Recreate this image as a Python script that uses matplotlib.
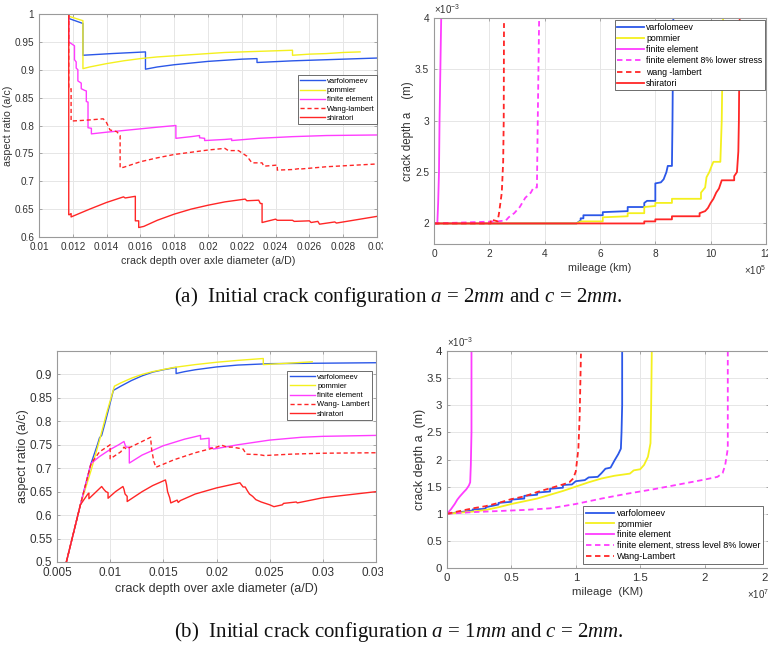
import numpy as np
import matplotlib
matplotlib.use("Agg")
import matplotlib.pyplot as plt
from matplotlib import ticker
from matplotlib.transforms import Bbox, TransformedBbox

plt.rcParams['font.family'] = ['Liberation Sans', 'DejaVu Sans']
plt.rcParams['mathtext.fontset'] = 'custom'
plt.rcParams['mathtext.it'] = 'Liberation Serif:italic'
plt.rcParams['mathtext.rm'] = 'Liberation Sans'
plt.rcParams['mathtext.sf'] = 'Liberation Sans'

# ---------------- data: panel (a) left, aspect ratio vs a/D ----------------
a_var_x = [0.01176, 0.01176, 0.0126, 0.0126, 0.0143, 0.0163, 0.0163, 0.017, 0.018, 0.019, 0.020, 0.021, 0.022, 0.0229, 0.0229, 0.025, 0.027, 0.030]
a_var_y = [1.0, 0.992, 0.983, 0.926, 0.929, 0.932, 0.901, 0.905, 0.909, 0.912, 0.915, 0.917, 0.919, 0.920, 0.913, 0.916, 0.918, 0.921]

a_pom_x = [0.01176, 0.01176, 0.0126, 0.0126, 0.013, 0.014, 0.015, 0.016, 0.017, 0.018, 0.019, 0.020, 0.021, 0.022, 0.023, 0.024, 0.0250, 0.0250, 0.026, 0.027, 0.028, 0.029]
a_pom_y = [1.0, 0.996, 0.988, 0.902, 0.905, 0.911, 0.916, 0.920, 0.923, 0.925, 0.927, 0.929, 0.931, 0.932, 0.933, 0.934, 0.935, 0.926, 0.928, 0.929, 0.931, 0.932]

a_fe_x = [0.01176, 0.01176, 0.0120, 0.0121, 0.0121, 0.0122, 0.0122, 0.0123, 0.0123, 0.0124, 0.0125, 0.0125, 0.0127, 0.0128, 0.0128, 0.0129, 0.0129, 0.0131, 0.0131, 0.014, 0.015, 0.016, 0.017, 0.0181, 0.0181, 0.019, 0.0195, 0.0195, 0.0198, 0.0198, 0.021, 0.0214, 0.0214, 0.023, 0.025, 0.027, 0.030]
a_fe_y = [1.0, 0.950, 0.945, 0.943, 0.918, 0.914, 0.903, 0.900, 0.880, 0.878, 0.876, 0.866, 0.863, 0.862, 0.843, 0.842, 0.796, 0.795, 0.785, 0.788, 0.791, 0.794, 0.797, 0.800, 0.777, 0.780, 0.782, 0.778, 0.777, 0.773, 0.775, 0.776, 0.773, 0.777, 0.780, 0.782, 0.783]

a_wl_x = [0.01176, 0.01176, 0.0119, 0.0119, 0.0125, 0.013, 0.0138, 0.014, 0.0142, 0.0146, 0.0148, 0.0148, 0.015, 0.016, 0.017, 0.018, 0.019, 0.020, 0.021, 0.0212, 0.0218, 0.0223, 0.0226, 0.0232, 0.0233, 0.0241, 0.0241, 0.025, 0.0255, 0.0255, 0.027, 0.030]
a_wl_y = [1.0, 0.866, 0.866, 0.808, 0.809, 0.810, 0.812, 0.805, 0.792, 0.789, 0.782, 0.724, 0.725, 0.735, 0.742, 0.748, 0.752, 0.756, 0.759, 0.755, 0.755, 0.745, 0.733, 0.733, 0.727, 0.729, 0.720, 0.721, 0.723, 0.722, 0.726, 0.731]

a_shi_x = [0.01176, 0.01176, 0.0118, 0.0119, 0.0119, 0.013, 0.014, 0.0150, 0.0151, 0.0157, 0.0157, 0.0159, 0.0159, 0.0162, 0.017, 0.018, 0.019, 0.020, 0.021, 0.0222, 0.0223, 0.0230, 0.0231, 0.0232, 0.0232, 0.024, 0.0241, 0.025, 0.0251, 0.026, 0.0261, 0.0265, 0.0266, 0.0275, 0.0276, 0.030]
a_shi_y = [1.0, 0.640, 0.640, 0.642, 0.636, 0.650, 0.662, 0.672, 0.670, 0.673, 0.629, 0.629, 0.617, 0.619, 0.630, 0.641, 0.650, 0.657, 0.663, 0.668, 0.665, 0.666, 0.660, 0.660, 0.626, 0.632, 0.630, 0.630, 0.628, 0.629, 0.626, 0.628, 0.623, 0.627, 0.625, 0.637]

# ---------------- data: panel (a) right, crack depth vs mileage ----------------
# mileage in units of 1e5 km, depth in units of 1e-3 m
ar_var_x = [0, 5.15, 5.3, 5.3, 5.4, 5.4, 6.1, 6.1, 7.0, 7.0, 7.6, 7.6, 7.7, 8.0, 8.0, 8.2, 8.3, 8.4, 8.45, 8.6, 8.62, 8.65]
ar_var_y = [2.0, 2.0, 2.03, 2.05, 2.05, 2.08, 2.08, 2.11, 2.12, 2.16, 2.16, 2.2, 2.22, 2.22, 2.39, 2.40, 2.43, 2.5, 2.56, 2.56, 3.0, 4.0]

ar_pom_x = [0, 5.15, 5.3, 6.1, 6.1, 7.0, 7.0, 7.6, 7.6, 8.0, 8.0, 8.6, 8.6, 9.65, 9.65, 9.8, 9.85, 9.95, 10.05, 10.1, 10.35, 10.4, 10.45]
ar_pom_y = [2.0, 2.0, 2.02, 2.02, 2.06, 2.07, 2.1, 2.1, 2.16, 2.17, 2.2, 2.2, 2.24, 2.24, 2.3, 2.35, 2.45, 2.5, 2.57, 2.6, 2.6, 3.0, 4.0]

ar_fe_x = [0, 0.12, 0.15, 0.18, 0.20, 0.23, 0.26]
ar_fe_y = [2.0, 2.0, 2.2, 2.5, 3.0, 3.5, 4.0]

ar_fe8_x = [0, 2.3, 2.6, 2.7, 2.9, 3.1, 3.3, 3.5, 3.6, 3.72, 3.75, 3.8]
ar_fe8_y = [2.0, 2.02, 2.03, 2.06, 2.1, 2.16, 2.25, 2.3, 2.35, 2.35, 3.0, 4.0]

ar_wl_x = [0, 2.05, 2.05, 2.3, 2.35, 2.45, 2.5, 2.52, 2.53]
ar_wl_y = [2.0, 2.0, 2.04, 2.02, 2.1, 2.3, 2.6, 3.0, 3.95]

ar_shi_x = [0, 7.6, 7.6, 8.0, 8.0, 8.6, 8.6, 9.6, 9.6, 9.8, 9.9, 10.0, 10.1, 10.2, 10.3, 10.4, 10.85, 10.85, 10.95, 11.0, 11.02, 11.05]
ar_shi_y = [2.0, 2.0, 2.02, 2.02, 2.04, 2.04, 2.07, 2.07, 2.1, 2.12, 2.15, 2.2, 2.24, 2.3, 2.34, 2.42, 2.42, 2.46, 2.5, 2.7, 3.0, 4.0]

# ---------------- data: panel (b) left ----------------
b_var_x = [0.00588, 0.0072, 0.0082, 0.0088, 0.0090, 0.0092, 0.0095, 0.0099, 0.0103, 0.011, 0.012, 0.013, 0.014, 0.015, 0.0162, 0.0162, 0.017, 0.018, 0.020, 0.022, 0.025, 0.030, 0.035]
b_var_y = [0.5, 0.622, 0.71, 0.75, 0.765, 0.77, 0.795, 0.83, 0.866, 0.875, 0.887, 0.897, 0.905, 0.910, 0.915, 0.902, 0.906, 0.910, 0.916, 0.920, 0.923, 0.924, 0.925]

b_pom_x = [0.00588, 0.0072, 0.0082, 0.0090, 0.0097, 0.0104, 0.011, 0.012, 0.013, 0.014, 0.016, 0.018, 0.020, 0.022, 0.0244, 0.0244, 0.026, 0.029]
b_pom_y = [0.5, 0.622, 0.695, 0.76, 0.82, 0.875, 0.882, 0.892, 0.900, 0.906, 0.915, 0.921, 0.926, 0.930, 0.934, 0.921, 0.923, 0.927]

b_fe_x = [0.00588, 0.0072, 0.0082, 0.009, 0.010, 0.0108, 0.0113, 0.0114, 0.0115, 0.0118, 0.0118, 0.013, 0.015, 0.017, 0.0185, 0.0185, 0.0193, 0.0193, 0.0196, 0.0197, 0.020, 0.022, 0.025, 0.028, 0.030, 0.035]
b_fe_y = [0.5, 0.622, 0.71, 0.725, 0.740, 0.750, 0.757, 0.750, 0.745, 0.745, 0.711, 0.728, 0.748, 0.762, 0.770, 0.762, 0.764, 0.744, 0.744, 0.741, 0.742, 0.750, 0.760, 0.766, 0.768, 0.770]

b_wl_x = [0.00588, 0.0072, 0.0082, 0.009, 0.0100, 0.0100, 0.011, 0.0113, 0.0115, 0.012, 0.013, 0.0138, 0.0139, 0.0141, 0.0143, 0.016, 0.018, 0.020, 0.0205, 0.021, 0.0215, 0.022, 0.0225, 0.0228, 0.024, 0.0245, 0.027, 0.030, 0.035]
b_wl_y = [0.5, 0.622, 0.71, 0.735, 0.750, 0.720, 0.735, 0.745, 0.741, 0.746, 0.757, 0.766, 0.740, 0.715, 0.702, 0.718, 0.733, 0.745, 0.749, 0.745, 0.745, 0.743, 0.741, 0.730, 0.729, 0.727, 0.730, 0.732, 0.733]

b_shi_x = [0.00588, 0.0072, 0.0079, 0.0080, 0.0080, 0.0086, 0.0092, 0.0094, 0.0096, 0.0098, 0.0098, 0.0105, 0.0112, 0.0113, 0.0114, 0.0116, 0.0116, 0.013, 0.014, 0.0152, 0.0153, 0.0154, 0.0156, 0.0157, 0.0163, 0.0164, 0.0166, 0.018, 0.020, 0.0222, 0.0225, 0.0227, 0.0229, 0.0231, 0.0234, 0.0237, 0.0242, 0.0246, 0.0250, 0.0254, 0.0262, 0.0263, 0.0275, 0.0276, 0.030, 0.035]
b_shi_y = [0.5, 0.622, 0.645, 0.647, 0.635, 0.648, 0.661, 0.655, 0.650, 0.648, 0.636, 0.650, 0.661, 0.655, 0.645, 0.640, 0.629, 0.650, 0.663, 0.675, 0.665, 0.650, 0.637, 0.626, 0.632, 0.627, 0.631, 0.645, 0.658, 0.669, 0.660, 0.660, 0.652, 0.645, 0.640, 0.633, 0.628, 0.625, 0.622, 0.618, 0.622, 0.625, 0.628, 0.626, 0.637, 0.650]

# ---------------- data: panel (b) right ----------------
# mileage in units of 1e7 km, depth in units of 1e-3 m
br_var_x = [0, 0.1, 0.2, 0.2, 0.3, 0.3, 0.4, 0.4, 0.5, 0.5, 0.6, 0.6, 0.7, 0.7, 0.8, 0.8, 0.9, 0.9, 0.97, 1.0, 1.07, 1.1, 1.17, 1.2, 1.23, 1.27, 1.3, 1.33, 1.35, 1.355, 1.36, 1.36]
br_var_y = [1.0, 1.03, 1.06, 1.08, 1.09, 1.12, 1.17, 1.2, 1.22, 1.26, 1.28, 1.33, 1.35, 1.39, 1.41, 1.46, 1.48, 1.53, 1.54, 1.6, 1.62, 1.67, 1.68, 1.75, 1.83, 1.85, 1.98, 2.1, 2.2, 2.5, 3.0, 4.0]

br_pom_x = [0, 0.2, 0.3, 0.4, 0.5, 0.6, 0.7, 0.8, 0.9, 1.0, 1.1, 1.2, 1.3, 1.42, 1.45, 1.5, 1.53, 1.56, 1.58, 1.585, 1.59]
br_pom_y = [1.0, 1.04, 1.07, 1.12, 1.18, 1.23, 1.28, 1.35, 1.42, 1.5, 1.58, 1.65, 1.7, 1.74, 1.8, 1.82, 1.9, 2.05, 2.3, 3.0, 4.0]

br_fe_x = [0, 0.03, 0.06, 0.08, 0.10, 0.13, 0.15, 0.17, 0.18, 0.185, 0.19, 0.19]
br_fe_y = [1.0, 1.08, 1.18, 1.26, 1.32, 1.40, 1.45, 1.52, 1.58, 1.9, 2.5, 4.0]

br_fe8_x = [0, 0.2, 0.4, 0.6, 0.8, 1.0, 1.2, 1.4, 1.6, 1.8, 2.0, 2.1, 2.14, 2.16, 2.18, 2.18]
br_fe8_y = [1.0, 1.03, 1.05, 1.07, 1.1, 1.18, 1.28, 1.37, 1.45, 1.54, 1.63, 1.68, 1.75, 1.9, 2.2, 4.0]

br_wl_x = [0, 0.1, 0.2, 0.3, 0.4, 0.5, 0.6, 0.7, 0.8, 0.9, 0.95, 0.98, 1.0, 1.02, 1.03, 1.04]
br_wl_y = [1.0, 1.05, 1.1, 1.14, 1.2, 1.27, 1.32, 1.4, 1.47, 1.54, 1.58, 1.65, 1.78, 2.2, 2.8, 3.95]

labels_a_left = ['varfolomeev', 'pommier', 'finite element', 'Wang-lambert', 'shiratori']
labels_a_right = ['varfolomeev', 'pommier', 'finite element', 'finite element 8% lower stress', 'wang -lambert', 'shiratori']
labels_b_left = ['varfolomeev', 'pommier', 'finite element', 'Wang- Lambert', 'shiratori']
labels_b_right = ['varfolomeev', 'pommier', 'finite element', 'finite element, stress level 8% lower', 'Wang-Lambert']

caption_a = r"(a)  Initial crack configuration $a$ = 2$mm$ and $c$ = 2$mm$."
caption_b = r"(b)  Initial crack configuration $a$ = 1$mm$ and $c$ = 2$mm$."

BLUE = '#2B57E8'
YEL = '#F4F01E'
MAG = '#FF3CFF'
RED = '#FF2626'
SPINE = '#9a9a9a'
TXT = '#333333'


class GFormatter(ticker.ScalarFormatter):
    def _set_format(self):
        self.format = '%g'


W, H = 768, 647
fig = plt.figure(figsize=(W / 100, H / 100), dpi=100)


def add_axes(l, r, t, b):
    return fig.add_axes([l / W, (H - b) / H, (r - l) / W, (b - t) / H])


def style(ax, fs, pad):
    ax.grid(True, color='#e6e6e6', linewidth=0.7)
    ax.set_axisbelow(True)
    for s in ax.spines.values():
        s.set_color(SPINE)
        s.set_linewidth(0.8)
    ax.tick_params(direction='in', length=2.5, width=0.6, colors=SPINE,
                   labelcolor=TXT, labelsize=fs, top=True, right=True, pad=pad)


ax1 = add_axes(39, 377, 14, 237)
ax2 = add_axes(434, 766, 18, 244)
ax3 = add_axes(57, 376, 351, 562)
ax4 = add_axes(447, 769, 351, 568)

# panel a left
lw = 1.0
ax1.plot(a_var_x, a_var_y, color=BLUE, lw=lw, label=labels_a_left[0])
ax1.plot(a_pom_x, a_pom_y, color=YEL, lw=lw, label=labels_a_left[1])
ax1.plot(a_fe_x, a_fe_y, color=MAG, lw=lw, label=labels_a_left[2])
ax1.plot(a_wl_x, a_wl_y, color=RED, lw=lw, ls=(0, (3, 2)), label=labels_a_left[3])
ax1.plot(a_shi_x, a_shi_y, color=RED, lw=lw, label=labels_a_left[4])
ax1.set_xlim(0.01, 0.03)
ax1.set_ylim(0.6, 1.0)
ax1.set_xticks(np.linspace(0.01, 0.03, 11))
ax1.set_yticks(np.linspace(0.6, 1.0, 9))
ax1.xaxis.set_major_formatter(ticker.FormatStrFormatter('%g'))
ax1.yaxis.set_major_formatter(ticker.FormatStrFormatter('%g'))
style(ax1, 7.2, 3.5)
ax1.set_xlabel('crack depth over axle diameter (a/D)', fontsize=7.7, color=TXT, labelpad=3)
ax1.set_ylabel('aspect ratio (a/c)', fontsize=7.7, color=TXT, labelpad=1)
leg = ax1.legend(loc='upper right', bbox_to_anchor=(1.0, 0.725), borderaxespad=0,
                 fontsize=5.5, fancybox=False, edgecolor='#555555', framealpha=1,
                 handlelength=3.2, handletextpad=0.3, labelspacing=0.25, borderpad=0.3)
leg.get_frame().set_linewidth(0.6)

# panel a right
lw2 = 1.3
ax2.plot(np.array(ar_var_x) * 1e5, np.array(ar_var_y) * 1e-3, color=BLUE, lw=lw2, label=labels_a_right[0])
ax2.plot(np.array(ar_pom_x) * 1e5, np.array(ar_pom_y) * 1e-3, color=YEL, lw=lw2, label=labels_a_right[1])
ax2.plot(np.array(ar_fe_x) * 1e5, np.array(ar_fe_y) * 1e-3, color=MAG, lw=lw2, label=labels_a_right[2])
ax2.plot(np.array(ar_fe8_x) * 1e5, np.array(ar_fe8_y) * 1e-3, color=MAG, lw=lw2, ls=(0, (3, 2)), label=labels_a_right[3])
ax2.plot(np.array(ar_wl_x) * 1e5, np.array(ar_wl_y) * 1e-3, color=RED, lw=lw2, ls=(0, (3, 2)), label=labels_a_right[4])
ax2.plot(np.array(ar_shi_x) * 1e5, np.array(ar_shi_y) * 1e-3, color=RED, lw=lw2, label=labels_a_right[5])
ax2.set_xlim(0, 12e5)
ax2.set_ylim(1.8e-3, 4e-3)
ax2.set_xticks(np.arange(0, 13, 2) * 1e5)
ax2.set_yticks(np.arange(2, 4.01, 0.5) * 1e-3)
fx = GFormatter(useMathText=True); fx.set_powerlimits((5, 5))
fy = GFormatter(useMathText=True); fy.set_powerlimits((-3, -3))
ax2.xaxis.set_major_formatter(fx)
ax2.yaxis.set_major_formatter(fy)
style(ax2, 7.3, 3.5)
ax2.set_xlabel('mileage (km)', fontsize=7.8, color=TXT, labelpad=3)
ax2.set_ylabel('crack depth a    (m)', fontsize=8.3, color=TXT, labelpad=1)
leg = ax2.legend(loc='upper right', bbox_to_anchor=(0.997, 0.99), borderaxespad=0,
                 fontsize=6.3, fancybox=False, edgecolor='#555555', framealpha=1,
                 handlelength=3.0, handletextpad=0.3, labelspacing=0.25, borderpad=0.3)
leg.get_frame().set_linewidth(0.6)

# panel b left
ax3.plot(b_var_x, b_var_y, color=BLUE, lw=lw, label=labels_b_left[0])
ax3.plot(b_pom_x, b_pom_y, color=YEL, lw=lw, label=labels_b_left[1])
ax3.plot(b_fe_x, b_fe_y, color=MAG, lw=lw, label=labels_b_left[2])
ax3.plot(b_wl_x, b_wl_y, color=RED, lw=lw, ls=(0, (3, 2)), label=labels_b_left[3])
ax3.plot(b_shi_x, b_shi_y, color=RED, lw=lw, label=labels_b_left[4])
ax3.set_xlim(0.005, 0.035)
ax3.set_ylim(0.5, 0.95)
ax3.set_xticks(np.linspace(0.005, 0.035, 7))
ax3.set_yticks(np.linspace(0.5, 0.9, 9))
ax3.xaxis.set_major_formatter(ticker.FormatStrFormatter('%g'))
ax3.yaxis.set_major_formatter(ticker.FormatStrFormatter('%g'))
style(ax3, 8.5, 3.5)
ax3.set_xlabel('crack depth over axle diameter (a/D)', fontsize=9, color=TXT, labelpad=3)
ax3.set_ylabel('aspect ratio (a/c)', fontsize=9, color=TXT, labelpad=0)
leg = ax3.legend(loc='upper right', bbox_to_anchor=(0.987, 0.905), borderaxespad=0,
                 fontsize=5.5, fancybox=False, edgecolor='#555555', framealpha=1,
                 handlelength=3.3, handletextpad=0.3, labelspacing=0.25, borderpad=0.3)
leg.get_frame().set_linewidth(0.6)

# panel b right
ax4.plot(np.array(br_var_x) * 1e7, np.array(br_var_y) * 1e-3, color=BLUE, lw=lw2, label=labels_b_right[0])
ax4.plot(np.array(br_pom_x) * 1e7, np.array(br_pom_y) * 1e-3, color=YEL, lw=lw2, label=labels_b_right[1])
ax4.plot(np.array(br_fe_x) * 1e7, np.array(br_fe_y) * 1e-3, color=MAG, lw=lw2, label=labels_b_right[2])
ax4.plot(np.array(br_fe8_x) * 1e7, np.array(br_fe8_y) * 1e-3, color=MAG, lw=lw2, ls=(0, (3, 2)), label=labels_b_right[3])
ax4.plot(np.array(br_wl_x) * 1e7, np.array(br_wl_y) * 1e-3, color=RED, lw=lw2, ls=(0, (3, 2)), label=labels_b_right[4])
ax4.set_xlim(0, 2.5e7)
ax4.set_ylim(0, 4e-3)
ax4.set_xticks(np.arange(0, 2.51, 0.5) * 1e7)
ax4.set_yticks(np.arange(0, 4.01, 0.5) * 1e-3)
fx4 = GFormatter(useMathText=True); fx4.set_powerlimits((7, 7))
fy4 = GFormatter(useMathText=True); fy4.set_powerlimits((-3, -3))
ax4.xaxis.set_major_formatter(fx4)
ax4.yaxis.set_major_formatter(fy4)
style(ax4, 8.2, 3.5)
ax4.set_xlabel('mileage  (KM)', fontsize=8.2, color=TXT, labelpad=3)
ax4.set_ylabel('crack depth a  (m)', fontsize=9, color=TXT, labelpad=0)
leg = ax4.legend(loc='lower right', bbox_to_anchor=(0.982, 0.02), borderaxespad=0,
                 fontsize=6.5, fancybox=False, edgecolor='#555555', framealpha=1,
                 handlelength=3.2, handletextpad=0.3, labelspacing=0.2, borderpad=0.3)
leg.get_frame().set_linewidth(0.6)

for ax in (ax2, ax4):
    ax.xaxis.get_offset_text().set_color(TXT)
    ax.yaxis.get_offset_text().set_color(TXT)
    ax.xaxis.get_offset_text().set_fontsize(7)
    ax.yaxis.get_offset_text().set_fontsize(7)

# captions
fig.text(398 / W, 1 - 297 / H, caption_a, ha='center', va='center', fontsize=15,
         family='Liberation Serif', color='#111111')
fig.text(399 / W, 1 - 632 / H, caption_b, ha='center', va='center', fontsize=15,
         family='Liberation Serif', color='#111111')

# clip left panels' tick labels at the panel image border
fig.canvas.draw()
clipbox = TransformedBbox(Bbox([[0, 0], [383 / W, 1]]), fig.transFigure)
for ax in (ax1, ax3):
    for lbl in ax.get_xticklabels():
        lbl.set_clip_box(clipbox)
        lbl.set_clip_on(True)

fig.savefig('out.png', dpi=100)
